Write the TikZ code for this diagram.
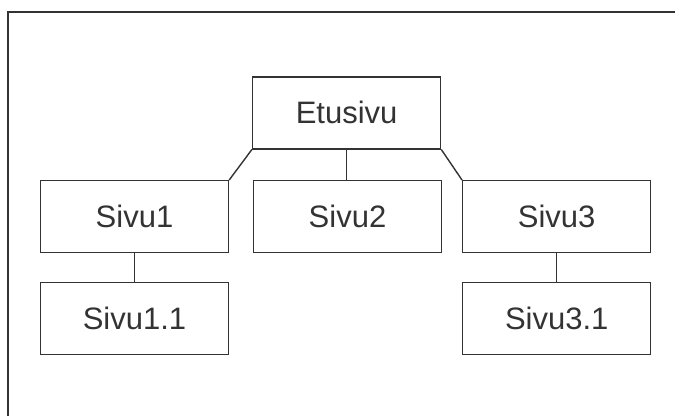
\documentclass[tikz,border=0pt]{standalone}
\usepackage{fontspec}
\setmainfont{Liberation Sans}
\usetikzlibrary{positioning}

\tikzset{
  page/.style={draw=black!80, line width=1.4pt, fill=white,
    minimum width=188pt, minimum height=72pt, inner sep=0pt,
    font=\fontsize{31}{36}\selectfont, text=black!80},
  link/.style={draw=black!80, line width=1.4pt}
}

\begin{document}
\begin{tikzpicture}[x=1pt, y=-1pt]
\useasboundingbox (0,0) rectangle (675,416);

% frame, open to the right and bottom
\draw[black!80, line width=2pt] (7.5,416) -- (7.5,11.5) -- (675,11.5);

% site tree
\node[page] (etusivu) at (346.6,112.8) {Etusivu};
\node[page] (sivu1) at (134.5,216.7) {Sivu1};
\node[page] (sivu2) at (347.5,216.7) {Sivu2};
\node[page] (sivu3) at (556.7,216.7) {Sivu3};
\node[page] (sivu11) at (134.5,318.3) {Sivu1.1};
\node[page] (sivu31) at (556.7,318.3) {Sivu3.1};

\draw[link] (etusivu.south west) -- (sivu1.north east);
\draw[link] (etusivu.south) -- (etusivu.south |- sivu2.north);
\draw[link] (etusivu.south east) -- (sivu3.north west);
\draw[link] (sivu1) -- (sivu11);
\draw[link] (sivu3) -- (sivu31);
\end{tikzpicture}
\end{document}
